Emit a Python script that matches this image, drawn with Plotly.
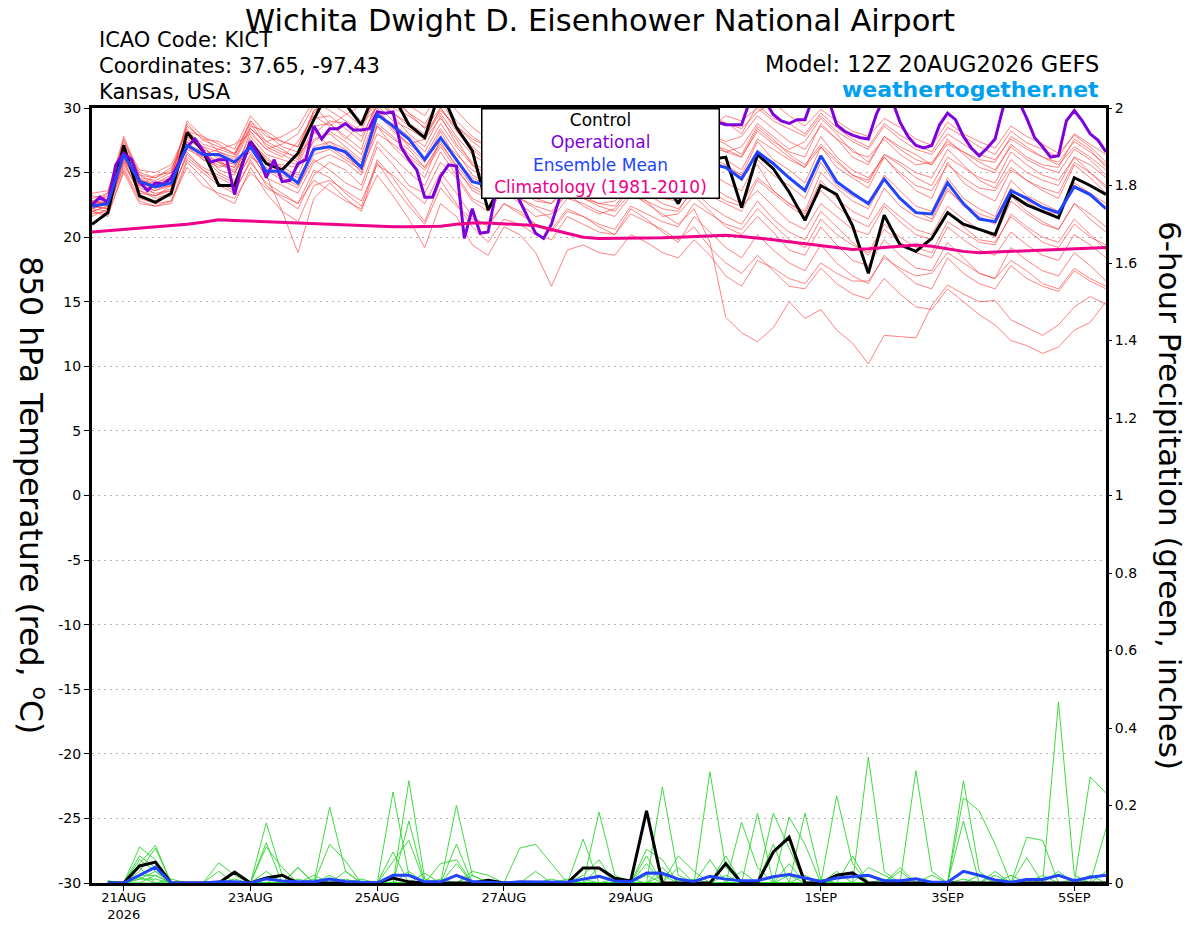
import pandas as pd
import plotly.graph_objects as go

# ---- GEFS 850 hPa temperature (deg C), 6-hourly from 12Z 20AUG2026 ----
temp_control = [21.0, 21.9, 27.1, 23.2, 22.7, 23.4, 28.1, 26.7, 24.0, 24.0, 27.4, 25.7, 25.2,
                26.5, 29.1, 31.5, 30.3, 28.7, 31.7, 31.0, 28.7, 27.7, 31.5, 28.5, 26.7, 22.1,
                24.5, 25.5, 24.8, 25.8, 26.0, 25.0, 26.5, 25.0, 24.6, 25.5, 24.5, 22.6, 25.0,
                26.0, 26.2, 22.3, 26.4, 25.3, 23.5, 21.3, 24.0, 23.3, 20.9, 17.2, 21.7, 19.4,
                18.9, 19.9, 21.9, 21.0, 20.6, 20.2, 23.3, 22.5, 22.0, 21.5, 24.6, 24.0, 23.3]

temp_mean = [22.4, 22.6, 26.4, 24.3, 23.9, 24.2, 27.1, 26.4, 26.4, 25.8, 27.0, 25.1, 25.1,
             24.2, 26.8, 27.0, 26.6, 25.4, 29.5, 28.6, 27.6, 26.0, 27.7, 26.0, 24.3, 24.0,
             23.6, 23.8, 24.6, 24.2, 25.0, 24.8, 25.4, 25.6, 25.0, 24.6, 25.3, 25.8, 25.4,
             25.7, 25.4, 24.5, 26.6, 25.7, 24.6, 23.6, 26.3, 24.3, 23.4, 22.6, 24.5, 23.0,
             21.9, 21.8, 24.2, 22.6, 21.4, 21.2, 23.6, 23.0, 22.3, 21.9, 23.9, 23.3, 22.2]

temp_climo = [20.4, 20.5, 20.6, 20.65, 20.75, 20.9, 21.0, 21.15, 21.35, 21.3, 21.25, 21.15,
              21.1, 21.05, 21.0, 20.95, 20.9, 20.85, 20.85, 20.8, 20.8, 20.8, 20.85, 21.0,
              21.1, 21.1, 21.05, 21.0, 20.9, 20.6, 20.3, 20.0, 19.9, 19.9, 19.9, 19.9, 19.95,
              20.0, 20.05, 20.1, 20.15, 20.05, 19.95, 19.8, 19.65, 19.5, 19.35, 19.2, 19.05,
              19.1, 19.2, 19.3, 19.4, 19.3, 19.1, 18.9, 18.8, 18.85, 18.9, 18.95, 19.05, 19.1,
              19.15, 19.2, 19.2]

# operational run is 3-hourly
temp_oper = [22.5, 23.1, 22.7, 25.6, 26.5, 26.0, 24.3, 23.6, 24.2, 24.1, 24.6, 25.8, 27.0,
             27.6, 26.7, 25.8, 26.0, 26.0, 23.3, 25.7, 27.4, 26.4, 24.6, 26.0, 24.3, 24.4,
             25.7, 26.0, 28.6, 27.6, 28.4, 28.4, 28.8, 28.3, 28.3, 28.4, 29.7, 29.6, 29.7,
             27.0, 26.0, 25.2, 23.1, 23.1, 24.7, 25.6, 25.5, 19.9, 22.2, 20.3, 20.4, 23.5,
             24.5, 24.0, 22.8, 21.5, 20.3, 19.9, 21.0, 23.0, 25.0, 26.5, 27.5, 28.0, 27.2,
             26.8, 28.0, 29.0, 28.5, 27.6, 27.0, 27.8, 29.2, 29.6, 28.8, 27.9, 27.5, 28.2,
             29.0, 28.9, 28.7, 28.7, 28.7, 30.5, 31.0, 30.5, 29.5, 29.0, 28.8, 29.1, 29.1,
             30.8, 31.5, 30.6, 28.7, 28.2, 27.9, 27.7, 27.6, 29.5, 30.8, 30.6, 28.9, 27.8,
             27.1, 26.9, 27.1, 28.7, 29.6, 29.1, 27.8, 26.9, 26.3, 26.9, 27.6, 30.0, 31.0,
             30.5, 29.2, 27.7, 27.0, 26.2, 26.3, 29.0, 29.8, 29.0, 28.0, 27.5, 26.6]

temp_members = [
    [22.8, 23.2, 27.6, 24.5, 24.0, 24.6, 28.8, 27.5, 27.0, 26.5, 29.0, 27.4, 27.8, 28.5, 30.6, 29.8, 29.0,
     28.2, 31.2, 30.0, 29.4, 28.5, 30.8, 29.0, 27.8, 27.0, 27.8, 26.5, 26.0, 25.6, 27.4, 26.8, 27.5,
     27.0, 28.2, 27.6, 28.4, 28.0, 29.5, 28.6, 28.9, 28.0, 30.2, 29.2, 28.8, 28.0, 29.6, 28.5, 27.6,
     27.0, 28.8, 27.9, 27.2, 26.6, 28.5, 27.8, 27.0, 26.4, 28.2, 27.3, 26.8, 26.2, 28.0, 27.2, 26.4],
    [22.0, 22.4, 26.8, 24.0, 23.6, 24.2, 28.2, 27.8, 26.6, 26.0, 28.6, 28.2, 27.4, 27.0, 29.6, 30.8, 30.2,
     29.0, 30.4, 31.0, 30.2, 29.4, 31.4, 29.8, 28.5, 27.6, 26.8, 27.2, 26.4, 25.8, 26.6, 27.4, 26.8,
     26.2, 27.6, 28.4, 27.8, 27.2, 28.8, 29.6, 28.8, 28.4, 29.7, 30.4, 29.4, 28.6, 29.9, 29.0, 28.2,
     27.8, 29.2, 28.5, 27.6, 27.1, 28.9, 28.0, 27.4, 26.9, 28.6, 27.8, 27.2, 26.5, 27.9, 27.0, 25.8],
    [23.2, 23.0, 27.2, 25.0, 24.6, 25.2, 28.4, 26.4, 26.8, 27.2, 28.0, 26.8, 26.2, 27.4, 29.4, 28.6, 29.5,
     30.2, 30.8, 29.6, 28.8, 28.0, 29.8, 28.6, 27.4, 26.5, 27.6, 26.0, 25.4, 25.0, 26.8, 25.8, 25.2,
     26.4, 27.8, 26.6, 26.0, 26.8, 28.2, 27.4, 26.6, 27.0, 28.8, 27.8, 26.8, 27.4, 29.2, 28.0, 26.6,
     26.2, 27.6, 26.4, 25.6, 25.8, 27.4, 26.6, 25.8, 25.2, 27.0, 26.0, 25.4, 25.0, 26.8, 26.0, 24.8],
    [22.6, 22.8, 26.0, 24.2, 23.8, 24.0, 27.0, 26.0, 25.6, 25.2, 27.2, 25.6, 24.8, 24.2, 27.0, 27.4, 26.4,
     25.0, 29.8, 28.4, 27.0, 25.8, 28.2, 26.0, 24.6, 24.0, 25.2, 24.2, 23.6, 23.0, 24.8, 24.6, 25.4,
     24.8, 26.2, 25.8, 25.0, 24.4, 26.8, 26.2, 25.6, 24.8, 27.4, 26.0, 25.2, 24.2, 27.0, 25.4, 24.6,
     23.8, 26.2, 24.8, 23.6, 23.0, 25.8, 24.2, 23.4, 22.8, 25.2, 24.4, 23.6, 23.0, 25.6, 24.6, 23.4],
    [22.2, 22.6, 26.6, 23.8, 23.4, 23.6, 27.6, 26.8, 26.2, 25.6, 26.6, 24.6, 24.0, 23.4, 25.8, 26.4, 25.8,
     24.8, 28.6, 27.6, 26.8, 25.4, 27.2, 25.6, 24.0, 23.4, 24.6, 23.6, 22.8, 22.6, 24.2, 23.4, 24.2,
     24.6, 25.4, 24.2, 23.8, 24.6, 26.0, 25.0, 24.2, 23.6, 26.0, 24.8, 24.0, 23.0, 25.8, 24.0, 23.2,
     22.6, 24.8, 23.6, 22.4, 22.0, 24.6, 23.0, 22.2, 21.6, 24.4, 23.2, 22.6, 22.0, 24.0, 23.4, 22.2],
    [21.8, 22.0, 26.0, 23.2, 22.8, 23.2, 26.6, 25.2, 24.6, 24.0, 27.6, 26.0, 25.4, 24.8, 27.6, 28.0, 27.0,
     26.0, 29.4, 28.8, 27.8, 26.6, 28.8, 27.0, 25.6, 24.8, 25.8, 24.8, 24.2, 24.0, 25.2, 24.0, 23.2,
     23.0, 24.6, 24.4, 25.2, 25.8, 27.0, 26.0, 25.4, 24.8, 25.6, 23.6, 22.6, 21.8, 24.4, 23.0, 22.0,
     21.4, 23.8, 22.4, 21.6, 21.2, 23.6, 22.6, 21.8, 21.4, 23.8, 22.8, 22.0, 21.8, 24.2, 23.4, 22.6],
    [22.4, 22.2, 25.4, 23.0, 22.6, 22.8, 26.0, 25.0, 24.0, 23.4, 26.0, 24.0, 23.0, 22.2, 24.8, 25.8, 25.2,
     24.0, 27.4, 26.2, 25.0, 24.0, 26.6, 24.8, 23.0, 22.4, 23.8, 23.0, 22.2, 21.4, 23.0, 22.6, 22.0,
     21.6, 23.2, 22.8, 22.2, 22.0, 24.0, 23.2, 22.6, 22.0, 24.4, 23.4, 22.4, 21.6, 23.6, 22.4, 21.4,
     20.8, 22.6, 21.6, 20.6, 20.2, 22.4, 21.4, 20.6, 20.0, 22.8, 21.8, 21.0, 20.6, 22.6, 21.8, 20.8],
    [22.0, 21.6, 25.2, 22.8, 22.4, 22.6, 25.8, 24.6, 23.2, 22.6, 25.4, 23.4, 22.0, 21.2, 24.0, 24.4, 23.6,
     22.8, 25.6, 24.8, 23.6, 22.6, 25.0, 23.4, 21.6, 20.8, 22.6, 21.8, 21.0, 20.4, 22.0, 21.6, 21.0,
     20.6, 22.4, 21.8, 21.2, 20.8, 22.6, 21.8, 21.0, 20.6, 22.2, 21.0, 19.8, 19.2, 21.4, 20.2, 19.4,
     18.8, 21.0, 20.0, 19.2, 18.8, 21.2, 20.4, 19.6, 19.4, 21.8, 20.8, 20.0, 19.6, 21.4, 20.2, 19.0],
    [22.6, 23.4, 27.0, 24.6, 24.4, 25.0, 28.6, 27.6, 27.4, 26.8, 29.4, 28.0, 27.0, 26.6, 29.8, 30.4, 29.6,
     28.6, 31.4, 30.6, 29.6, 28.8, 30.6, 28.6, 27.6, 27.0, 28.2, 27.6, 26.8, 26.2, 27.2, 26.4, 26.0,
     25.6, 27.0, 27.2, 26.6, 26.0, 27.6, 28.4, 29.4, 29.0, 30.0, 29.0, 28.4, 27.8, 29.4, 28.2, 27.4,
     26.8, 28.6, 27.6, 26.8, 26.4, 28.0, 27.2, 26.4, 26.0, 27.6, 26.8, 26.2, 25.8, 27.4, 26.6, 25.6],
    [22.8, 22.6, 26.4, 24.4, 24.0, 24.4, 27.4, 26.2, 25.8, 25.4, 27.8, 26.4, 26.0, 25.6, 28.2, 27.0, 26.2,
     25.4, 28.6, 27.0, 25.8, 24.6, 27.6, 26.4, 25.2, 24.6, 25.6, 24.4, 23.8, 23.2, 24.4, 23.2, 22.6,
     22.8, 24.0, 23.4, 22.6, 22.2, 23.6, 22.4, 21.6, 21.0, 22.8, 21.4, 20.4, 19.8, 22.0, 20.8, 19.6,
     18.6, 20.6, 19.6, 18.8, 18.4, 20.8, 19.8, 19.0, 18.6, 20.4, 19.4, 18.6, 18.2, 20.2, 19.4, 18.4],
    [22.4, 22.8, 26.2, 24.0, 23.6, 24.0, 27.2, 26.4, 25.8, 25.0, 27.0, 25.2, 24.4, 23.8, 26.4, 26.8, 26.0,
     25.2, 28.0, 27.2, 26.2, 25.2, 27.0, 25.2, 23.8, 23.2, 24.4, 23.6, 23.0, 22.6, 23.8, 23.0, 22.4,
     22.0, 23.4, 22.6, 21.8, 21.0, 22.2, 19.6, 13.8, 12.6, 11.9, 13.0, 15.0, 13.7, 14.4, 12.8, 11.8,
     10.2, 12.4, 12.3, 12.2, 14.7, 16.3, 15.6, 15.0, 15.1, 13.6, 13.0, 12.4, 13.2, 14.6, 15.4, 14.8],
    [22.2, 22.0, 25.6, 23.6, 23.0, 23.4, 26.4, 25.4, 24.8, 24.2, 26.4, 24.8, 22.0, 18.8, 23.0, 24.2, 23.0,
     22.0, 25.8, 24.0, 22.4, 21.0, 23.8, 22.4, 21.4, 21.0, 22.6, 22.0, 21.0, 20.6, 22.2, 21.6, 20.8,
     20.2, 21.8, 21.2, 20.6, 19.8, 20.8, 19.2, 18.0, 17.2, 18.6, 17.4, 16.2, 16.0, 17.6, 16.4, 15.6,
     15.2, 16.8, 15.6, 14.6, 14.4, 16.0, 15.0, 14.0, 13.2, 12.0, 11.6, 11.0, 11.5, 12.8, 13.4, 15.0],
    [22.0, 21.8, 25.0, 22.6, 22.4, 22.8, 25.4, 24.0, 23.4, 23.0, 25.0, 23.8, 23.2, 22.6, 25.2, 24.6, 23.4,
     22.4, 26.0, 24.6, 22.8, 21.2, 24.4, 22.6, 20.8, 19.6, 21.4, 21.0, 20.2, 19.8, 21.6, 21.0, 20.4,
     20.2, 22.2, 21.4, 20.4, 19.6, 21.6, 20.4, 19.2, 18.4, 20.2, 19.0, 18.0, 17.4, 19.4, 18.0, 17.0,
     16.4, 18.6, 17.4, 16.4, 16.0, 18.4, 17.2, 16.4, 16.0, 17.8, 16.8, 16.2, 15.8, 17.4, 16.6, 16.0],
    [23.0, 23.4, 27.8, 24.8, 24.2, 24.6, 29.0, 27.8, 27.2, 26.4, 28.4, 27.4, 26.8, 26.0, 29.2, 29.4, 28.4,
     27.4, 30.6, 29.4, 28.0, 27.0, 29.4, 27.2, 25.8, 25.0, 26.4, 25.8, 25.0, 24.2, 25.8, 25.2, 24.6,
     24.0, 25.8, 25.6, 24.8, 24.2, 25.8, 26.6, 26.0, 25.2, 27.6, 26.8, 26.0, 25.4, 27.8, 26.2, 25.2,
     24.6, 26.2, 25.0, 24.0, 23.6, 25.6, 24.6, 23.8, 23.6, 25.4, 24.4, 23.8, 23.4, 25.8, 25.0, 24.0],
    [22.4, 22.2, 26.2, 24.4, 24.2, 24.8, 27.8, 27.0, 26.0, 25.0, 26.8, 25.8, 25.6, 25.4, 27.4, 28.2, 27.4,
     26.4, 29.6, 28.2, 27.2, 26.2, 28.4, 26.6, 24.8, 24.2, 25.0, 24.6, 24.0, 23.8, 25.4, 24.8, 24.2,
     23.6, 24.8, 24.2, 23.4, 23.0, 24.6, 24.0, 23.2, 22.6, 24.6, 23.6, 22.6, 22.0, 25.0, 23.8, 22.8,
     22.2, 24.4, 23.0, 22.0, 21.4, 23.8, 22.4, 21.6, 21.0, 23.2, 22.0, 21.2, 20.6, 22.6, 21.4, 20.4],
    [22.6, 23.0, 26.8, 24.8, 24.6, 25.4, 27.4, 26.0, 25.4, 25.8, 28.4, 27.2, 26.6, 26.2, 28.0, 29.0, 28.8,
     27.8, 30.2, 29.0, 28.4, 27.6, 30.0, 28.2, 26.8, 25.8, 27.0, 26.4, 25.6, 25.0, 26.6, 26.2, 25.8,
     25.4, 26.6, 26.0, 25.6, 25.0, 26.6, 27.0, 26.6, 26.2, 28.4, 27.4, 26.6, 26.2, 28.8, 27.6, 26.8,
     25.8, 27.8, 26.8, 26.0, 25.6, 27.6, 26.4, 25.4, 25.0, 27.2, 26.2, 25.6, 25.4, 27.6, 26.8, 25.4],
    [22.0, 22.4, 25.8, 23.4, 23.2, 23.8, 26.2, 25.2, 24.2, 23.6, 25.8, 24.2, 23.4, 22.6, 24.4, 23.6, 22.8,
     22.2, 24.8, 23.2, 21.4, 19.2, 22.6, 21.6, 19.4, 18.6, 20.8, 20.2, 18.8, 16.2, 19.0, 19.4, 18.8,
     18.6, 20.2, 19.6, 18.8, 18.4, 19.8, 18.6, 17.0, 16.2, 18.2, 17.6, 16.8, 16.4, 18.0, 17.2, 16.6,
     16.6, 18.4, 17.6, 17.0, 17.2, 18.8, 18.0, 17.2, 16.8, 18.2, 17.4, 16.4, 16.0, 17.6, 16.8, 16.2],
    [22.6, 22.6, 26.6, 24.2, 23.8, 24.4, 28.0, 27.0, 26.6, 26.2, 29.0, 27.8, 27.4, 27.0, 29.8, 30.6, 31.2,
     30.4, 31.8, 30.8, 29.6, 28.4, 30.0, 28.4, 27.0, 26.0, 26.6, 25.6, 25.0, 24.6, 25.6, 25.0, 24.4,
     24.8, 26.6, 26.4, 25.6, 25.0, 27.2, 27.8, 27.2, 26.4, 28.6, 27.6, 26.4, 25.6, 27.2, 26.0, 24.8,
     24.2, 26.4, 25.8, 25.0, 24.6, 26.8, 25.6, 24.4, 23.8, 26.0, 25.0, 24.4, 24.0, 26.2, 25.6, 24.6],
    [22.8, 22.4, 26.2, 23.6, 23.2, 23.6, 27.2, 26.6, 25.8, 25.4, 27.4, 26.2, 25.2, 24.6, 26.6, 27.4, 26.8,
     25.8, 28.8, 27.8, 26.4, 25.4, 27.4, 25.4, 23.6, 23.0, 24.0, 23.0, 22.4, 22.0, 23.4, 23.0, 22.6,
     22.4, 24.0, 23.6, 23.0, 22.8, 24.4, 23.6, 22.8, 22.4, 23.6, 22.4, 21.2, 20.6, 22.6, 21.6, 20.6,
     20.2, 22.4, 21.2, 20.2, 19.8, 22.0, 20.8, 19.8, 19.6, 21.6, 20.6, 19.6, 19.2, 21.0, 20.0, 19.4],
    [23.4, 23.6, 27.4, 25.2, 25.0, 25.6, 28.2, 27.2, 26.8, 26.4, 28.8, 27.0, 26.4, 25.8, 28.6, 28.8, 27.8,
     26.8, 30.4, 29.6, 28.6, 27.8, 29.6, 27.8, 26.4, 25.6, 26.8, 26.0, 25.2, 24.6, 26.0, 25.4, 25.0,
     25.2, 26.8, 26.4, 26.0, 25.6, 27.6, 27.2, 26.8, 26.2, 28.2, 27.2, 26.2, 25.4, 27.0, 25.8, 24.8,
     24.4, 26.4, 25.6, 24.6, 24.0, 26.2, 25.4, 24.6, 24.2, 26.6, 25.6, 24.8, 24.4, 26.2, 25.0, 23.8],
    [22.2, 22.8, 27.0, 24.0, 24.8, 25.0, 27.8, 26.6, 25.2, 24.8, 28.2, 26.8, 27.2, 28.0, 30.2, 28.8, 27.6,
     28.8, 30.0, 28.4, 27.2, 27.6, 29.2, 27.6, 25.6, 24.2, 25.4, 27.0, 26.4, 25.2, 27.8, 26.6, 25.6,
     26.8, 28.4, 27.2, 26.2, 27.4, 29.0, 28.0, 27.4, 27.8, 29.4, 28.4, 27.4, 26.8, 28.6, 27.6, 26.2,
     25.6, 27.8, 27.0, 26.4, 25.6, 27.2, 26.6, 26.0, 25.8, 27.8, 27.0, 26.2, 25.6, 27.0, 26.2, 25.2],
    [21.6, 22.2, 25.8, 24.6, 23.2, 24.0, 26.8, 26.2, 25.0, 24.4, 26.2, 25.4, 24.6, 24.0, 26.0, 25.2, 24.2,
     23.6, 27.0, 25.6, 24.0, 23.4, 25.8, 24.6, 22.8, 22.0, 23.6, 22.6, 21.6, 21.8, 23.4, 22.4, 21.8,
     22.2, 23.8, 22.8, 21.6, 21.8, 23.2, 22.0, 20.8, 20.2, 21.6, 20.4, 19.0, 18.6, 20.8, 19.4, 18.2,
     17.8, 19.8, 18.6, 17.6, 17.4, 19.6, 18.4, 17.2, 16.8, 19.2, 18.2, 17.4, 17.0, 18.8, 17.8, 16.6],
]

# ---- 6-hour precipitation (inches), from 18Z 20AUG2026 ----
precip_control = [0, 0, 0.044, 0.054, 0, 0, 0, 0, 0.028, 0, 0.013, 0.02, 0, 0, 0, 0,
                  0, 0, 0.013, 0.003, 0, 0, 0, 0, 0.007, 0, 0, 0, 0, 0, 0.039, 0.039,
                  0.012, 0.005, 0.186, 0, 0, 0, 0, 0.05, 0, 0, 0.08, 0.118, 0, 0, 0.02, 0.026,
                  0, 0, 0, 0, 0, 0, 0, 0, 0, 0, 0, 0, 0, 0, 0, 0]

precip_mean = [0, 0, 0.02, 0.041, 0, 0, 0, 0.003, 0.003, 0, 0.011, 0.005, 0.003, 0.003, 0.01, 0.004,
               0.002, 0, 0.02, 0.02, 0.003, 0.003, 0.02, 0.004, 0.002, 0, 0.003, 0.003, 0.002, 0.002, 0.01, 0.017,
               0.005, 0.003, 0.026, 0.025, 0.01, 0.004, 0.017, 0.01, 0.006, 0.006, 0.016, 0.022, 0.013, 0.004, 0.013, 0.017,
               0.02, 0.006, 0.006, 0.011, 0.002, 0.002, 0.03, 0.02, 0.008, 0.002, 0.009, 0.009, 0.02, 0.006, 0.015, 0.02]

precip_members = [
    [0, 0, .093, .06, 0, 0, 0, 0, 0, 0, .155, .02, 0, 0, 0, 0,
     0, 0, .235, .02, 0, 0, 0, 0, 0, 0, 0, 0, 0, 0, 0, 0,
     0, 0, 0, .248, .02, 0, 0, 0, 0, 0, 0, 0, 0, 0, 0, 0,
     .325, .03, 0, 0, 0, 0, 0, 0, 0, 0, 0, 0, .467, .02, 0, 0],
    [0, 0, .05, .097, 0, 0, 0, 0, 0, 0, 0, 0, 0, 0, .196, .03,
     0, 0, 0, .264, .01, 0, 0, 0, 0, 0, 0, 0, 0, 0, 0, 0,
     0, 0, 0, 0, 0, 0, .287, .04, 0, 0, 0, 0, 0, 0, 0, 0,
     0, 0, 0, 0, 0, 0, .264, .03, 0, 0, 0, 0, 0, 0, .274, .232],
    [0, 0, .07, .04, 0, 0, 0, .052, .02, 0, 0, 0, 0, 0, 0, 0,
     0, 0, 0, .16, 0, 0, .2, .02, 0, 0, 0, 0, 0, 0, 0, .183,
     .02, 0, 0, 0, 0, 0, 0, 0, 0, 0, 0, 0, 0, 0, .225, .05,
     0, 0, 0, .29, .03, 0, 0, 0, 0, 0, 0, 0, 0, 0, 0, 0],
    [0, 0, .03, .09, 0, 0, 0, 0, 0, 0, .104, 0, .04, 0, 0, 0,
     0, 0, 0, 0, 0, 0, .1, 0, 0, 0, .09, .1, .05, 0, 0, 0,
     0, 0, 0, 0, 0, 0, 0, 0, .157, .04, 0, 0, 0, 0, 0, 0,
     0, 0, 0, 0, 0, 0, .22, .186, .1, 0, 0, 0, 0, 0, 0, 0],
    [0, 0, .06, .03, 0, 0, 0, 0, 0, 0, .093, .04, 0, 0, .1, .057,
     0, 0, .055, .11, 0, 0, 0, 0, 0, 0, 0, 0, 0, 0, .113, 0,
     0, 0, .087, .06, 0, 0, 0, 0, 0, 0, 0, 0, .18, .01, 0, 0,
     0, 0, 0, 0, 0, 0, 0, 0, 0, 0, .118, .11, 0, 0, 0, 0],
    [.005, 0, .02, .02, 0, 0, 0, .03, 0, 0, 0, 0, 0, .02, 0, 0,
     0, 0, .08, 0, 0, .05, .06, 0, 0, 0, 0, 0, 0, 0, .02, .06,
     0, 0, 0, 0, 0, 0, 0, 0, 0, 0, .18, .09, 0, 0, 0, 0,
     0, 0, 0, 0, 0, 0, .16, 0, 0, 0, .065, 0, 0, 0, 0, .14],
    [.005, 0, .01, .03, 0, 0, 0, 0, 0, 0, 0, 0, .04, 0, .02, 0,
     0, 0, 0, 0, 0, 0, 0, .03, .02, 0, 0, 0, 0, 0, 0, 0,
     0, 0, .07, 0, .07, .03, 0, 0, 0, .18, 0, .05, 0, 0, 0, 0,
     0, 0, .04, 0, 0, 0, 0, 0, 0, 0, 0, 0, 0, 0, 0, 0],
    [0, 0, .04, 0, 0, 0, 0, 0, 0, 0, 0, .02, 0, 0, 0, .03,
     0, 0, 0, 0, .025, 0, .05, 0, 0, 0, 0, .03, 0, 0, 0, .04,
     0, 0, 0, .04, 0, 0, 0, .07, 0, 0, 0, .17, .1, 0, 0, .07,
     0, 0, .03, 0, 0, 0, 0, 0, .03, 0, 0, 0, 0, 0, 0, 0],
    [0, 0, 0, .02, 0, 0, 0, 0, .01, 0, 0, 0, 0, 0, 0, 0,
     .01, 0, 0, 0, 0, 0, 0, .02, 0, 0, 0, 0, 0, 0, 0, 0,
     .01, 0, .05, 0, .04, 0, .06, 0, 0, 0, .1, 0, 0, 0, .03, 0,
     .04, .02, 0, 0, 0, 0, 0, 0, 0, .02, 0, .02, 0, 0, 0, 0],
    [0, 0, .015, 0, 0, 0, 0, 0, 0, 0, .03, 0, 0, .01, 0, 0,
     0, 0, 0, .03, 0, 0, 0, 0, 0, 0, 0, 0, 0, .01, 0, 0,
     0, 0, 0, .02, 0, 0, 0, .02, 0, 0, 0, 0, 0, .01, 0, 0,
     0, 0, 0, 0, .02, 0, 0, .02, 0, 0, 0, 0, .03, 0, 0, 0],
    [.005, 0, 0, 0, .01, 0, 0, 0, 0, 0, 0, 0, .01, 0, 0, 0,
     0, 0, 0, 0, 0, 0, 0, 0, .01, 0, 0, 0, 0, 0, .01, 0,
     0, .01, 0, 0, 0, 0, 0, 0, .03, 0, 0, 0, .02, 0, 0, 0,
     0, 0, 0, .01, 0, 0, 0, 0, .02, 0, 0, 0, 0, .01, 0, .03],
    [0, 0, .01, .01, 0, 0, 0, 0, 0, 0, 0, 0, 0, 0, 0, .01,
     0, 0, 0, 0, 0, .01, 0, 0, 0, 0, 0, 0, .01, 0, 0, 0,
     0, 0, .02, 0, 0, .01, 0, 0, 0, 0, 0, .02, 0, 0, 0, 0,
     0, .01, 0, 0, 0, 0, .01, 0, 0, 0, .01, 0, 0, 0, .02, 0],
]

date_ticks = ["2026-08-21", "2026-08-23", "2026-08-25", "2026-08-27", "2026-08-29",
              "2026-09-01", "2026-09-03", "2026-09-05"]
date_labels = ["21AUG<br>2026", "23AUG", "25AUG", "27AUG", "29AUG", "1SEP", "3SEP", "5SEP"]
temp_ticks = [30, 25, 20, 15, 10, 5, 0, -5, -10, -15, -20, -25, -30]
precip_ticks = [0, 0.2, 0.4, 0.6, 0.8, 1, 1.2, 1.4, 1.6, 1.8, 2]

times6 = pd.date_range("2026-08-20 12:00", periods=len(temp_mean), freq="6h")
times3 = pd.date_range("2026-08-20 12:00", periods=len(temp_oper), freq="3h")
ptimes = pd.date_range("2026-08-20 18:00", periods=len(precip_mean), freq="6h")

FONT = "DejaVu Sans"
RED = "rgba(255,60,60,0.8)"
GREEN = "rgb(40,215,40)"
BLACK = "#000000"
PURPLE = "#8000dc"
BLUE = "#2244ff"
PINK = "#ee0088"

fig = go.Figure()

for m in temp_members:
    fig.add_trace(go.Scatter(x=times6, y=m, mode="lines", line=dict(color=RED, width=0.8),
                             hoverinfo="skip", showlegend=False))
for m in precip_members:
    fig.add_trace(go.Scatter(x=ptimes, y=m, mode="lines", yaxis="y2",
                             line=dict(color=GREEN, width=0.9), hoverinfo="skip", showlegend=False))

fig.add_trace(go.Scatter(x=ptimes, y=precip_control, mode="lines", yaxis="y2",
                         line=dict(color=BLACK, width=3), showlegend=False))
fig.add_trace(go.Scatter(x=ptimes, y=precip_mean, mode="lines", yaxis="y2",
                         line=dict(color=BLUE, width=3), showlegend=False))

fig.add_trace(go.Scatter(x=times6, y=temp_control, mode="lines",
                         line=dict(color=BLACK, width=3), showlegend=False))
fig.add_trace(go.Scatter(x=times3, y=temp_oper, mode="lines",
                         line=dict(color=PURPLE, width=3), showlegend=False))
fig.add_trace(go.Scatter(x=times6, y=temp_mean, mode="lines",
                         line=dict(color=BLUE, width=3), showlegend=False))
fig.add_trace(go.Scatter(x=times6, y=temp_climo, mode="lines",
                         line=dict(color=PINK, width=3), showlegend=False))

# the page body adds an 8px margin, so the figure is 16px smaller than the window
fig.update_layout(
    width=1184,
    height=911,
    margin=dict(l=84, r=86, t=100, b=36),
    paper_bgcolor="white",
    plot_bgcolor="white",
    font=dict(family=FONT, color="black", size=13),
    xaxis=dict(
        range=[times6[0], times6[-1]],
        tickvals=date_ticks, ticktext=date_labels,
        ticks="outside", ticklen=5, tickwidth=1, tickcolor="black",
        ticklabelstandoff=-5,
        showgrid=False, zeroline=False, automargin=False,
        showline=True, linecolor="black", linewidth=3, mirror=True,
        tickfont=dict(family=FONT, size=13),
    ),
    yaxis=dict(
        range=[-30, 30],
        tickvals=temp_ticks, ticktext=[str(t) for t in temp_ticks],
        ticks="outside", ticklen=5, tickcolor="black",
        showgrid=True, gridcolor="#b4b4b4", griddash="2px,4px", gridwidth=1,
        zeroline=False, automargin=False,
        showline=True, linecolor="black", linewidth=3, mirror=True,
        tickfont=dict(family=FONT, size=14),
    ),
    yaxis2=dict(
        range=[0, 2], overlaying="y", side="right",
        tickvals=precip_ticks, ticktext=[f"{t:g}" for t in precip_ticks],
        ticks="outside", ticklen=5, tickcolor="black",
        showgrid=False, zeroline=False, showline=False, automargin=False,
        tickfont=dict(family=FONT, size=14),
    ),
)

def px_x(px):
    return (px - 92) / 1014.0

def px_y(py):
    return (883 - py) / 775.0

texts = [
    dict(text="Wichita Dwight D. Eisenhower National Airport", x=px_x(600), y=px_y(20),
         xanchor="center", font=dict(size=30.5)),
    dict(text="ICAO Code: KICT", x=px_x(97), y=px_y(40), xanchor="left", font=dict(size=21)),
    dict(text="Coordinates: 37.65, -97.43", x=px_x(97), y=px_y(66), xanchor="left", font=dict(size=21)),
    dict(text="Kansas, USA", x=px_x(97), y=px_y(92), xanchor="left", font=dict(size=21)),
    dict(text="Model: 12Z 20AUG2026 GEFS", x=px_x(1101), y=px_y(64), xanchor="right", font=dict(size=22.5)),
    dict(text="<b>weathertogether.net</b>", x=px_x(1101), y=px_y(89), xanchor="right",
         font=dict(size=22, color="#00a0f0")),
    dict(text="850 hPa Temperature (red, <sup>o</sup>C)", x=px_x(33), y=px_y(495),
         xanchor="center", textangle=90, font=dict(size=31.5)),
    dict(text="6-hour Precipitation (green, inches)", x=px_x(1170), y=px_y(495),
         xanchor="center", textangle=90, font=dict(size=31)),
]
for t in texts:
    fig.add_annotation(xref="paper", yref="paper", showarrow=False, yanchor="middle",
                       font_family=FONT, **t)

legend_text = ("Control<br>"
               f"<span style='color:{PURPLE}'>Operational</span><br>"
               f"<span style='color:{BLUE}'>Ensemble Mean</span><br>"
               f"<span style='color:{PINK}'>Climatology (1981-2010)</span>")
fig.add_annotation(xref="paper", yref="paper", x=px_x(600), y=1.0, xanchor="center", yanchor="top",
                   text=legend_text, showarrow=False, align="center",
                   font=dict(family=FONT, size=17, color="black"),
                   bgcolor="white", bordercolor="black", borderwidth=1.5, borderpad=0,
                   width=236, height=88)

fig.write_html("out.html")
